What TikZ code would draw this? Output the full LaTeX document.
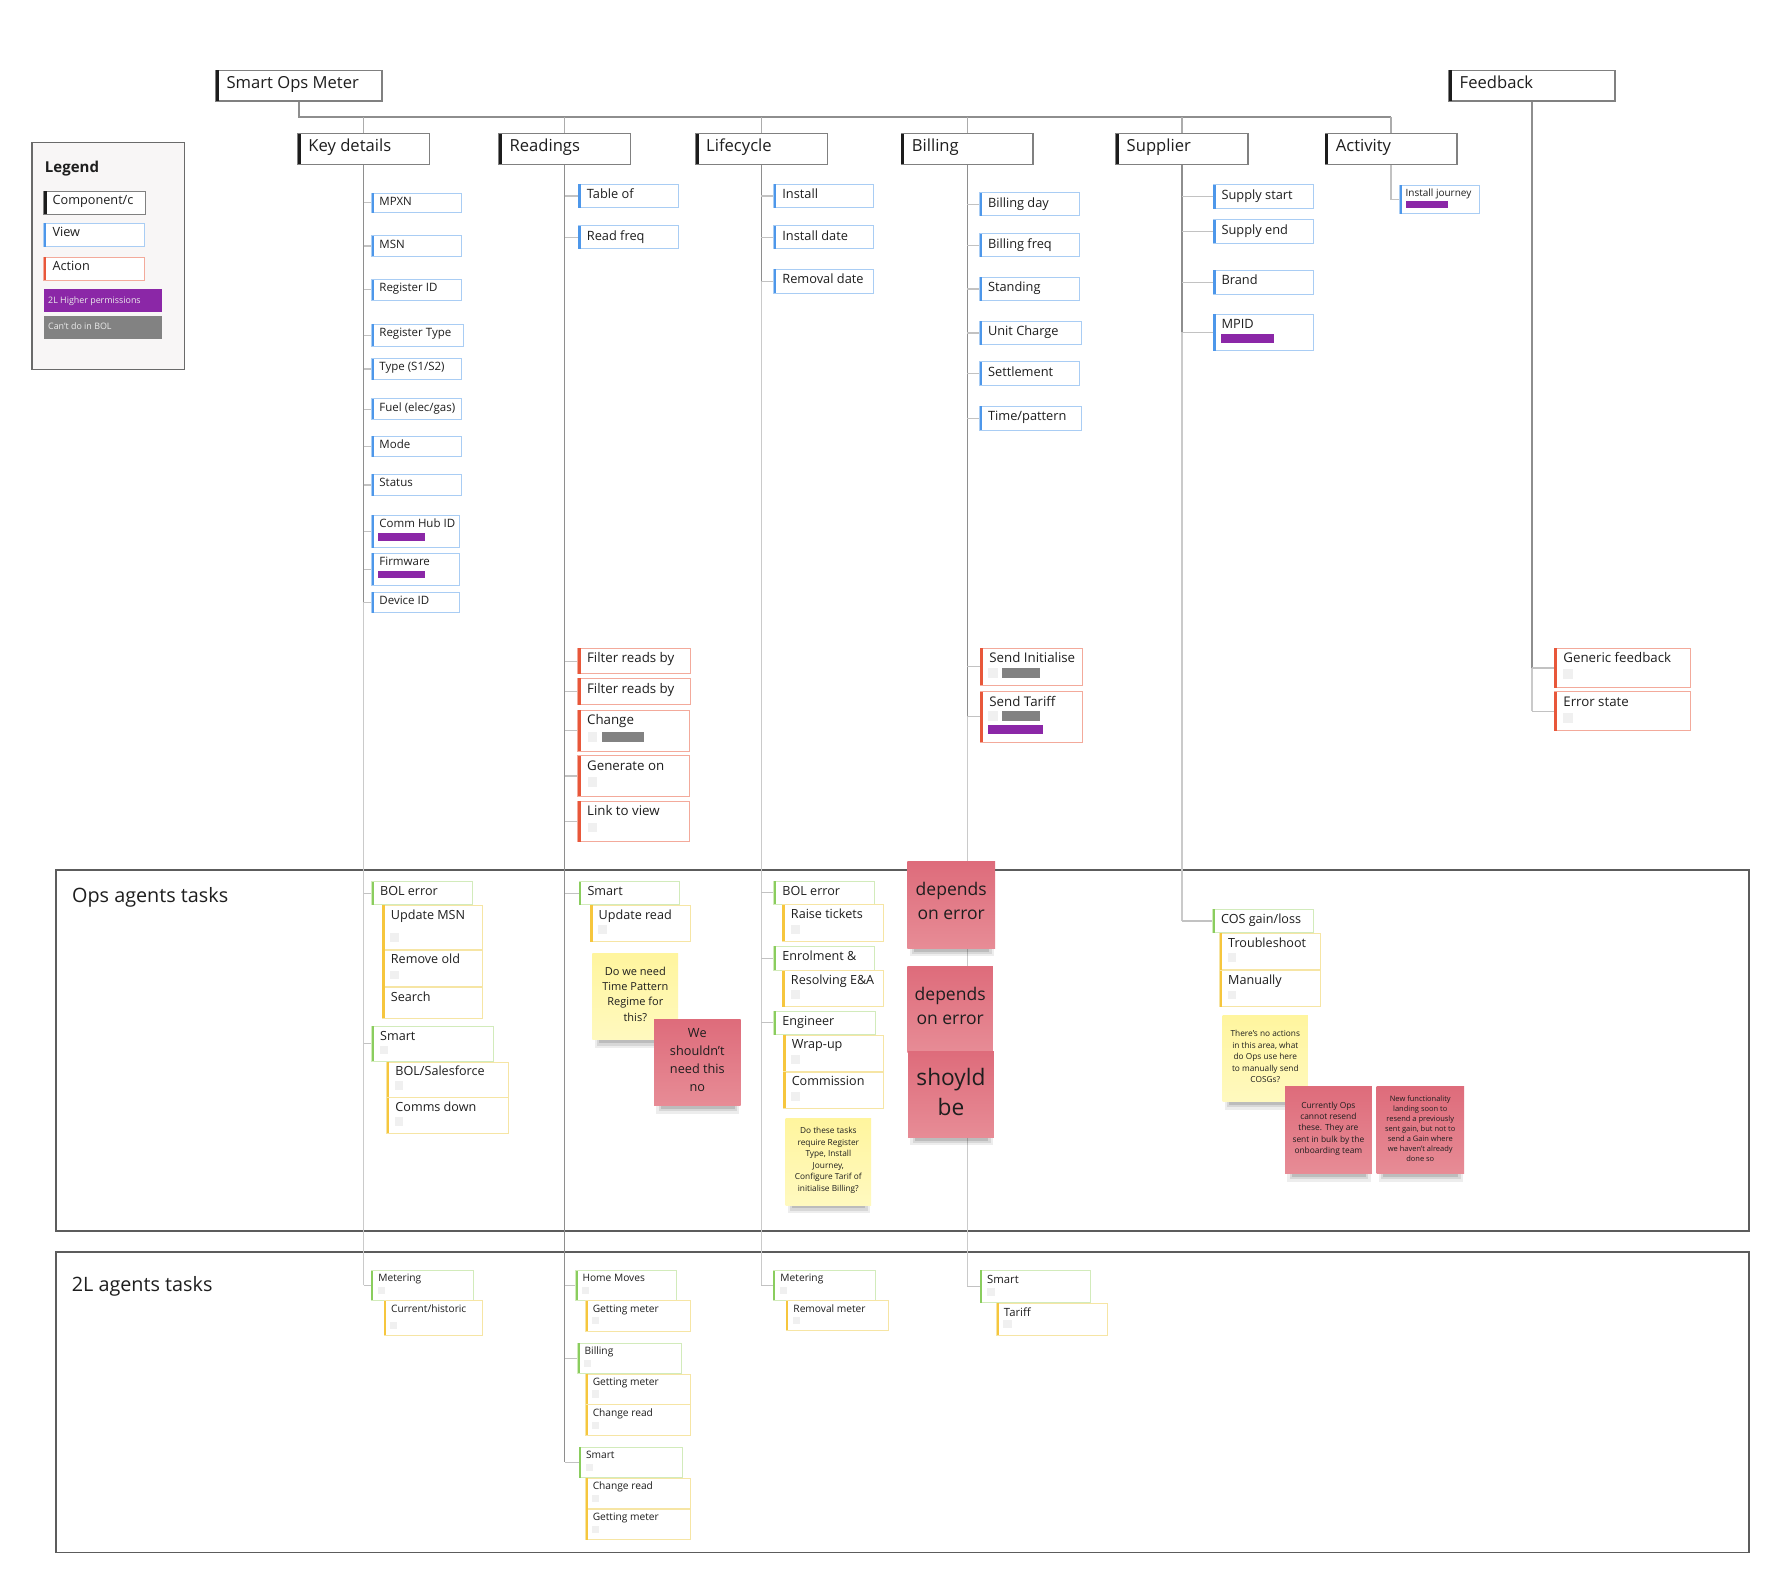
\documentclass[tikz,border=0pt]{standalone}
\usepackage{fontspec}
\setmainfont{Open Sans}
\usetikzlibrary{fit,backgrounds}

\definecolor{ink}{HTML}{1E1E1E}
\definecolor{hdrborder}{HTML}{808080}
\definecolor{hdrbar}{HTML}{1C1C1C}
\definecolor{viewborder}{HTML}{A9CDF4}
\definecolor{viewbar}{HTML}{4D97EA}
\definecolor{actborder}{HTML}{F3AA9B}
\definecolor{actbar}{HTML}{E8573A}
\definecolor{grpborder}{HTML}{D2EBBB}
\definecolor{grpbar}{HTML}{8ACD5E}
\definecolor{subborder}{HTML}{F6E5A4}
\definecolor{subbar}{HTML}{F6C63D}
\definecolor{permpurple}{HTML}{8B27A7}
\definecolor{bolgray}{HTML}{828282}
\definecolor{chkgray}{HTML}{F0F0F0}
\definecolor{stickyyelA}{HTML}{FFF59E}
\definecolor{stickyyelB}{HTML}{FFF9BF}
\definecolor{stickyredA}{HTML}{DE6C7B}
\definecolor{stickyredB}{HTML}{E78C96}
\definecolor{trunkgray}{HTML}{8E8E8E}
\definecolor{palegray}{HTML}{CACACA}
\definecolor{branchgray}{HTML}{C2C2C2}
\definecolor{busgray}{HTML}{ACACAC}
\definecolor{framegray}{HTML}{5C5C5C}
\definecolor{legendfill}{HTML}{F8F6F6}
\definecolor{legendborder}{HTML}{6A6A6A}

\tikzset{barwidth/.initial=2.4pt}

% box with coloured left bar and top-left text
\newcommand\card[7]{%
  \node[#1,fit={(#3,#4) (#5,#6)}] (#2) {};
  \fill[#1 bar] (#2.north west) rectangle ([xshift=\pgfkeysvalueof{/tikz/barwidth}]#2.south west);
  \node[#1 text] (#2-t) at (#2.north west) {#7};
}
% sticky note with soft shadow and centred text
\newcommand\sticky[8]{%
  \fill[black,opacity=.07] (#4+2,#7-3) rectangle (#6-1,#7+7);
  \fill[black,opacity=.09] (#4+4,#7-3) rectangle (#6-3,#7+5);
  \fill[black,opacity=.12] (#4+6,#7-3) rectangle (#6-5,#7+3);
  \node[#1,fit={(#4,#5) (#6,#7)}] (#3) {};
  \node[#2] (#3-t) at (#3.center) {#8};
}
\newcommand\chkbox[3]{\fill[chkgray] (#1,#2) rectangle ++(#3,#3);}
\newcommand\permbar[4]{\fill[permpurple] (#1,#2) rectangle (#3,#4);}
\newcommand\bolbar[4]{\fill[bolgray] (#1,#2) rectangle (#3,#4);}

\begin{document}
\begin{tikzpicture}[x=1.1365pt,y=-1.1365pt,
  cardbase/.style={inner sep=0pt, outer sep=0pt, fill=white, line width=1pt},
  txt/.style={anchor=base west, inner sep=0pt, text=ink},
  hdr/.style={cardbase, draw=hdrborder, line width=1.3pt},
  hdr bar/.style={fill=hdrbar, barwidth=3.2pt},
  hdr text/.style={txt, xshift=10.5pt, yshift=-18.3pt, font=\fontsize{16.6}{20}\selectfont},
  kview/.style={cardbase, draw=viewborder},
  kview bar/.style={fill=viewbar},
  kview text/.style={txt, xshift=7.6pt, yshift=-12.3pt, font=\fontsize{11.5}{14}\selectfont},
  view/.style={cardbase, draw=viewborder},
  view bar/.style={fill=viewbar},
  view text/.style={txt, xshift=8.2pt, yshift=-14.5pt, font=\fontsize{12.8}{15}\selectfont},
  viewS/.style={cardbase, draw=viewborder},
  viewS bar/.style={fill=viewbar},
  viewS text/.style={txt, xshift=5.8pt, yshift=-11pt, font=\fontsize{10}{12}\selectfont},
  act/.style={cardbase, draw=actborder},
  act bar/.style={fill=actbar, barwidth=2.7pt},
  act text/.style={txt, xshift=9pt, yshift=-14.6pt, font=\fontsize{13.3}{16}\selectfont},
  grp/.style={cardbase, draw=grpborder},
  grp bar/.style={fill=grpbar},
  grp text/.style={txt, xshift=8.3pt, yshift=-14pt, font=\fontsize{12.6}{15}\selectfont},
  sub/.style={cardbase, draw=subborder},
  sub bar/.style={fill=subbar},
  sub text/.style={txt, xshift=8.3pt, yshift=-13.8pt, font=\fontsize{12.6}{15}\selectfont},
  grpS/.style={cardbase, draw=grpborder},
  grpS bar/.style={fill=grpbar, barwidth=2pt},
  grpS text/.style={txt, xshift=6.8pt, yshift=-11.3pt, font=\fontsize{10.2}{12}\selectfont},
  subS/.style={cardbase, draw=subborder},
  subS bar/.style={fill=subbar, barwidth=2pt},
  subS text/.style={txt, xshift=6.8pt, yshift=-11.3pt, font=\fontsize{10.2}{12}\selectfont},
  grpM/.style={cardbase, draw=grpborder},
  grpM bar/.style={fill=grpbar, barwidth=2pt},
  grpM text/.style={txt, xshift=7pt, yshift=-13pt, font=\fontsize{11.3}{13}\selectfont},
  subM/.style={cardbase, draw=subborder},
  subM bar/.style={fill=subbar, barwidth=2pt},
  subM text/.style={txt, xshift=7pt, yshift=-13pt, font=\fontsize{11.3}{13}\selectfont},
  leghdr/.style={cardbase, draw=hdrborder, line width=1.2pt},
  leghdr bar/.style={fill=hdrbar, barwidth=2.8pt},
  leghdr text/.style={txt, xshift=8.4pt, yshift=-13.6pt, font=\fontsize{12.7}{15}\selectfont},
  legview/.style={cardbase, draw=viewborder},
  legview bar/.style={fill=viewbar},
  legview text/.style={txt, xshift=8.4pt, yshift=-13.6pt, font=\fontsize{12.7}{15}\selectfont},
  legact/.style={cardbase, draw=actborder},
  legact bar/.style={fill=actbar},
  legact text/.style={txt, xshift=8.4pt, yshift=-13.6pt, font=\fontsize{12.7}{15}\selectfont},
  legperm/.style={inner sep=0pt, fill=permpurple},
  legperm bar/.style={fill=permpurple},
  legperm text/.style={txt, text=white!92!black, xshift=4.2pt, yshift=-14.3pt, font=\fontsize{8.9}{11}\selectfont},
  legbol/.style={inner sep=0pt, fill=bolgray},
  legbol bar/.style={fill=bolgray},
  legbol text/.style={txt, text=white!92!black, xshift=4.2pt, yshift=-13.8pt, font=\fontsize{8.9}{11}\selectfont},
  ysticky/.style={inner sep=0pt, top color=stickyyelA, bottom color=stickyyelB},
  rsticky/.style={inner sep=0pt, top color=stickyredA, bottom color=stickyredB},
  stxt/.style={inner sep=0pt, align=center, text=ink, yshift=2.6pt},
  ystxt/.style={stxt, font=\fontsize{11}{15.3}\selectfont},
  rstxt/.style={stxt, font=\fontsize{12.7}{18}\selectfont},
  rsbig/.style={stxt, yshift=1.5pt, font=\fontsize{17.5}{24}\selectfont},
  rshuge/.style={stxt, font=\fontsize{22.7}{30}\selectfont},
  ysmall/.style={stxt, yshift=-1pt, font=\fontsize{8.3}{11.6}\selectfont},
  rsmall/.style={stxt, yshift=-1pt, font=\fontsize{8.4}{11.3}\selectfont},
  rtiny/.style={stxt, yshift=-1pt, font=\fontsize{7.5}{10}\selectfont},
  frame/.style={draw=framegray, line width=1.8pt, inner sep=0pt},
  frametitle/.style={txt, font=\fontsize{19.8}{24}\selectfont},
  trunkline/.style={draw=trunkgray, line width=1.3pt},
  paleline/.style={draw=palegray, line width=1.3pt},
  branchline/.style={draw=branchgray, line width=1.2pt},
  busline/.style={draw=busgray, line width=1.2pt}
]
\useasboundingbox (0,0) rectangle (1568,1387);

% ---------- headers ----------
\card{hdr}{som}{190}{62}{336}{89}{Smart Ops Meter}
\card{hdr}{fb}{1275}{62}{1421}{89}{Feedback}
\card{hdr}{kd}{262}{117.5}{378}{144.5}{Key details}
\card{hdr}{rd}{439}{117.5}{555}{144.5}{Readings}
\card{hdr}{lc}{612}{117.5}{728}{144.5}{Lifecycle}
\card{hdr}{bl}{793}{117.5}{909}{144.5}{Billing}
\card{hdr}{sp}{982}{117.5}{1098}{144.5}{Supplier}
\card{hdr}{act}{1166}{117.5}{1282}{144.5}{Activity}

% ---------- legend ----------
\node[inner sep=0pt, draw=legendborder, fill=legendfill, line width=1.4pt, fit={(28,125.5) (162.3,325)}] (legend) {};
\node[txt, font=\bfseries\fontsize{15}{18}\selectfont] (legend-t) at (39.4,151.9) {Legend};
\card{leghdr}{lgc}{38.7}{168.4}{128}{188.6}{Component/c}
\card{legview}{lgv}{38.7}{196.5}{127.3}{217}{View}
\card{legact}{lga}{38.7}{226.4}{127.3}{246.7}{Action}
\card{legperm}{lgp}{38.7}{254.3}{142.4}{274.2}{2L Higher permissions}
\card{legbol}{lgb}{38.7}{277.8}{142.4}{298}{Can't do in BOL}

% ---------- key details ----------
\card{kview}{mpxn}{327}{170}{406}{187}{MPXN}
\card{kview}{msn}{327}{207.5}{406}{225.5}{MSN}
\card{kview}{regid}{327}{246}{406}{264}{Register ID}
\card{kview}{regty}{327}{285.5}{408}{304.5}{Register Type}
\card{kview}{typ}{327}{315.5}{406}{334}{Type (S1/S2)}
\card{kview}{fuel}{327}{351}{406}{369}{Fuel (elec/gas)}
\card{kview}{mode}{327}{384}{406}{402}{Mode}
\card{kview}{stat}{327}{417.5}{406}{436}{Status}
\card{kview}{chub}{327}{453.5}{404}{482}{Comm Hub ID}
\permbar{333}{469}{374}{476}
\card{kview}{firm}{327}{487}{404}{515}{Firmware}
\permbar{333}{502}{374}{509}
\card{kview}{dev}{327}{521}{404}{539}{Device ID}

% ---------- readings ----------
\card{view}{tabl}{509}{162}{597}{183}{Table of}
\card{view}{rfq}{509}{198.5}{597}{219}{Read freq}
\card{act}{flta}{508.5}{570.5}{607.5}{593}{Filter reads by}
\card{act}{fltb}{508.5}{597}{607.5}{620}{Filter reads by}
\card{act}{chg}{508.5}{625}{606.5}{661}{Change}
\chkbox{517}{644.5}{8.5}
\bolbar{529.5}{644.5}{567}{653.3}
\card{act}{gen}{508.5}{665}{606.5}{700.5}{Generate on}
\chkbox{517}{684}{8.5}
\card{act}{lnk}{508.5}{705}{606.5}{740.5}{Link to view}
\chkbox{517}{724}{8.5}

% ---------- lifecycle ----------
\card{view}{ins}{681}{162}{769}{183}{Install}
\card{view}{insd}{681}{198.5}{769}{219}{Install date}
\card{view}{remd}{681}{237}{769}{258}{Removal date}

% ---------- billing ----------
\card{view}{bday}{862}{169.5}{950}{190}{Billing day}
\card{view}{bfrq}{862}{205.5}{950}{226}{Billing freq}
\card{view}{stand}{862}{244}{950}{264.5}{Standing}
\card{view}{unit}{862}{282.5}{952}{303.5}{Unit Charge}
\card{view}{sett}{862}{318.5}{950}{339}{Settlement}
\card{view}{timep}{862}{357.5}{952}{378.5}{Time/pattern}
\card{act}{sndi}{862.5}{570.5}{952.5}{603}{Send Initialise}
\chkbox{869.5}{588}{8.3}
\bolbar{881.5}{588}{915.5}{596.3}
\card{act}{sndt}{862.5}{608.5}{952.5}{653}{Send Tariff}
\chkbox{869.5}{626}{8.3}
\bolbar{881.5}{626}{915.5}{634.2}
\permbar{869.5}{637.5}{917.5}{645.5}

% ---------- supplier ----------
\card{view}{ss}{1067.5}{162.5}{1155.5}{183.5}{Supply start}
\card{view}{se}{1067.5}{193.5}{1155.5}{214}{Supply end}
\card{view}{brand}{1067.5}{238}{1155.5}{259}{Brand}
\card{view}{mpid}{1067.5}{276.5}{1155.5}{308.5}{MPID}
\permbar{1074}{293.5}{1121}{302}

% ---------- activity ----------
\card{viewS}{ij}{1231.5}{163}{1301.5}{188.3}{Install journey}
\permbar{1237}{176.6}{1274.3}{182.7}

% ---------- feedback ----------
\card{act}{gf}{1367.5}{570.5}{1487.5}{605}{Generic feedback}
\chkbox{1375.5}{589}{8.5}
\card{act}{es}{1367.5}{608.5}{1487.5}{643}{Error state}
\chkbox{1375.5}{627.5}{8.5}

% ---------- ops agents tasks ----------
\node[frametitle] (ops-t) at (63.3,794.3) {Ops agents tasks};
\card{grp}{kdbol}{327}{776}{415.5}{796}{BOL error}
\card{sub}{umsn}{336.5}{796.5}{424.5}{835.5}{Update MSN}
\chkbox{343.3}{821}{7.5}
\card{sub}{remold}{336.5}{836}{424.5}{868.3}{Remove old}
\chkbox{343.3}{854}{7.5}
\card{sub}{srch}{336.5}{868.8}{424.5}{896}{Search}
\card{grp}{kdsmart}{327}{903}{434}{934}{Smart}
\chkbox{334}{920}{7.5}
\card{sub}{bolsf}{340.5}{934.5}{447.5}{965.3}{BOL/Salesforce}
\chkbox{347.2}{951.4}{7.5}
\card{sub}{cdown}{340.5}{965.8}{447.5}{997.2}{Comms down}
\chkbox{347.2}{983}{7.5}

\card{grp}{rdsmart}{509.5}{776}{598}{796}{Smart}
\card{sub}{updr}{519.3}{796.5}{607.7}{828.6}{Update read}
\chkbox{526.4}{814}{7.5}
\sticky{ysticky}{ystxt}{stk1}{521.3}{838.8}{596.7}{915}{Do we need\\Time Pattern\\Regime for\\this?}
\sticky{rsticky}{rstxt}{stk2}{575.5}{897}{651.6}{973}{We\\shouldn't\\need this\\no}

\card{grp}{lcbol}{681}{775.5}{769.5}{795.7}{BOL error}
\card{sub}{raise}{688.5}{796.3}{777.5}{828}{Raise tickets}
\chkbox{695.7}{814}{7.8}
\card{grp}{enrol}{681}{832.7}{769.5}{853.8}{Enrolment \&}
\card{sub}{resea}{688.5}{854}{777.5}{885.8}{Resolving E\&A}
\chkbox{695.7}{871.1}{7.8}
\card{grp}{engr}{681}{889.6}{770.5}{910.3}{Engineer}
\card{sub}{wrap}{689.2}{910.7}{777.5}{942.7}{Wrap-up}
\chkbox{696}{928.3}{7.8}
\card{sub}{comm}{689.2}{943.3}{777.5}{975.2}{Commission}
\chkbox{696}{961}{7.8}
\sticky{ysticky}{ysmall}{stk3}{691.3}{984.6}{766.4}{1060.3}{Do these tasks\\require Register\\Type, Install\\Journey,\\Configure Tarif of\\initialise Billing?}

\sticky{rsticky}{rsbig}{stk4}{798.4}{758.2}{875.5}{834.4}{depends\\on error}
\sticky{rsticky}{rsbig}{stk5}{798.4}{850.6}{873.7}{926}{depends\\on error}
\sticky{rsticky}{rshuge}{stk6}{799}{925}{874.6}{1000.7}{shoyld\\be}

\card{grp}{cos}{1067}{800.1}{1155.5}{820.7}{COS gain/loss}
\card{sub}{trbl}{1073.2}{821.2}{1161.9}{853.5}{Troubleshoot}
\chkbox{1080.3}{838.8}{7.5}
\card{sub}{manu}{1073.2}{854.1}{1161.9}{886}{Manually}
\chkbox{1080.3}{871.7}{7.5}
\sticky{ysticky}{ysmall}{stk7}{1075.8}{893.1}{1150.9}{969.3}{There's no actions\\in this area, what\\do Ops use here\\to manually send\\COSGs?}
\sticky{rsticky}{rsmall}{stk8}{1130.7}{956.4}{1207}{1032.7}{Currently Ops\\cannot resend\\these. They are\\sent in bulk by the\\onboarding team}
\sticky{rsticky}{rtiny}{stk9}{1211.2}{956.4}{1288.2}{1032.7}{New functionality\\landing soon to\\resend a previously\\sent gain, but not to\\send a Gain where\\we haven't already\\done so}

% ---------- 2L agents tasks ----------
\node[frametitle] (twol-t) at (63,1136.5) {2L agents tasks};
\card{grpS}{kdmet}{326.8}{1118}{416.6}{1144}{Metering}
\chkbox{332.6}{1132}{6.3}
\card{subS}{curh}{338}{1144.5}{424.7}{1175}{Current/historic}
\chkbox{343.2}{1163.5}{6.3}
\card{grpS}{hmv}{506.4}{1118}{595.2}{1144}{Home Moves}
\chkbox{512}{1132}{6.3}
\card{subS}{gmA}{515.4}{1144.5}{607.4}{1171.2}{Getting meter}
\chkbox{520.5}{1159}{6.3}
\card{grpS}{rdbil}{508.2}{1182}{599.7}{1208.4}{Billing}
\chkbox{514}{1196.5}{6.3}
\card{subS}{gmB}{515.4}{1209}{607.4}{1235.4}{Getting meter}
\chkbox{520.5}{1223.5}{6.3}
\card{subS}{crA}{515.4}{1236}{607.4}{1263}{Change read}
\chkbox{520.5}{1250.8}{6.3}
\card{grpS}{rdsm}{509.5}{1273.5}{600.7}{1300.2}{Smart}
\chkbox{515.4}{1288.3}{6.3}
\card{subS}{crB}{515.4}{1300.8}{607.4}{1327.5}{Change read}
\chkbox{520.5}{1315.3}{6.3}
\card{subS}{gmC}{515.4}{1328}{607.4}{1355}{Getting meter}
\chkbox{520.5}{1342.6}{6.3}
\card{grpS}{lcmet}{680.6}{1118}{770.5}{1144}{Metering}
\chkbox{686.5}{1132}{6.3}
\card{subS}{remm}{692}{1144.5}{781.6}{1170.6}{Removal meter}
\chkbox{698}{1159}{6.3}
\card{grpM}{blsm}{862.3}{1117.8}{959.7}{1146.5}{Smart}
\chkbox{868.7}{1133}{7}
\card{subM}{tarf}{877}{1146.8}{974.3}{1175}{Tariff}
\chkbox{882.8}{1161.5}{7.3}

% ---------- background: frames and connectors ----------
\begin{scope}[on background layer]
\fill[white] (0,0) rectangle (1568,1387);
\node[frame, fit={(49,765.5) (1539,1083)}] (opsframe) {};
\node[frame, fit={(49,1101.5) (1539,1366)}] (twolframe) {};
\coordinate (busend) at (1224,103);
\draw[trunkline] (som.south) |- (busend);
\draw[busline] (busend) -- (act.north);
\foreach \h in {kd,rd,lc,bl,sp}{\draw[busline] (\h.north) -- (\h.north |- busend);}
% key details
\draw[trunkline] (kd.south) -- (kd.south |- dev.west);
\draw[paleline] (kd.south |- dev.west) -- (kd.south |- kdmet.west);
\foreach \c in {mpxn,msn,regid,regty,typ,fuel,mode,stat,chub,firm,dev,kdbol,kdsmart,kdmet}{\draw[branchline] (kd.south |- \c.west) -- (\c.west);}
% readings
\draw[trunkline] (rd.south) -- (rd.south |- rdsm.west);
\foreach \c in {tabl,rfq,flta,fltb,chg,gen,lnk,rdsmart,hmv,rdbil,rdsm}{\draw[branchline] (rd.south |- \c.west) -- (\c.west);}
% lifecycle
\draw[trunkline] (lc.south) -- (lc.south |- remd.west);
\draw[paleline] (lc.south |- remd.west) -- (lc.south |- lcmet.west);
\foreach \c in {ins,insd,remd,lcbol,enrol,engr,lcmet}{\draw[branchline] (lc.south |- \c.west) -- (\c.west);}
% billing
\draw[trunkline] (bl.south) -- (bl.south |- sndt.west);
\draw[paleline] (bl.south |- sndt.west) -- (bl.south |- blsm.west);
\foreach \c in {bday,bfrq,stand,unit,sett,timep,sndi,sndt,blsm}{\draw[branchline] (bl.south |- \c.west) -- (\c.west);}
% supplier
\draw[trunkline] (sp.south) -- (sp.south |- mpid.west);
\draw[paleline] (sp.south |- mpid.west) -- (sp.south |- cos.west);
\foreach \c in {ss,se,brand,mpid,cos}{\draw[branchline] (sp.south |- \c.west) -- (\c.west);}
% activity
\draw[branchline] (act.south) |- (ij.west);
% feedback
\draw[trunkline] (fb.south) -- (fb.south |- gf.west);
\draw[paleline] (fb.south |- gf.west) -- (fb.south |- es.west);
\foreach \c in {gf,es}{\draw[branchline] (fb.south |- \c.west) -- (\c.west);}
\end{scope}
\end{tikzpicture}
\end{document}
